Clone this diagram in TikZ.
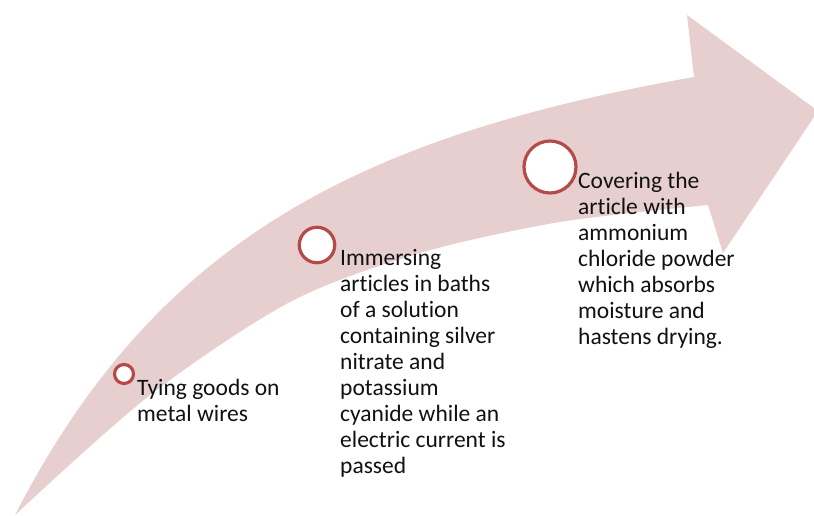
\documentclass[tikz,border=0pt]{standalone}
\usepackage{fontspec}
\setmainfont{Carlito}[Ligatures=CommonOff]
\definecolor{arrowpink}{HTML}{E7CFD0}
\definecolor{ringred}{HTML}{B54A49}
\definecolor{txt}{HTML}{111111}
\begin{document}
\begin{tikzpicture}[x=1pt,y=-1pt,
  ring/.style={circle,draw=ringred,line width=3.2pt,fill=white,inner sep=0pt},
  steptext/.style={anchor=base west,inner sep=0pt,align=left,text=txt,
    font=\fontsize{23.5}{26}\selectfont}]
\useasboundingbox (0,0) rectangle (814,515);
% curved arrow
\fill[arrowpink] (15,515) .. controls (155,243) and (354,137) .. (694,77)
  -- (687,15) -- (818,111) -- (723,253) -- (708,205)
  -- plot[smooth,tension=0.5] coordinates {(708,205) (560,222) (420,253) (290,302) (150,395) (15,515)}
  -- cycle;
% markers
\node[ring,minimum size=19pt] (c1) at (124,374) {};
\node[ring,minimum size=35.5pt] (c2) at (317,245) {};
\node[ring,minimum size=52pt] (c3) at (550,167) {};
% labels (anchor at the baseline of the last line)
\node[steptext] (t1) at (137,421) {Tying goods on\\metal wires};
\node[steptext] (t2) at (340,473) {Immersing\\articles in baths\\of a solution\\containing silver\\nitrate and\\potassium\\cyanide while an\\electric current is\\passed};
\node[steptext] (t3) at (578,344) {Covering the\\article with\\ammonium\\chloride powder\\which absorbs\\moisture and\\hastens drying.};
\end{tikzpicture}
\end{document}
